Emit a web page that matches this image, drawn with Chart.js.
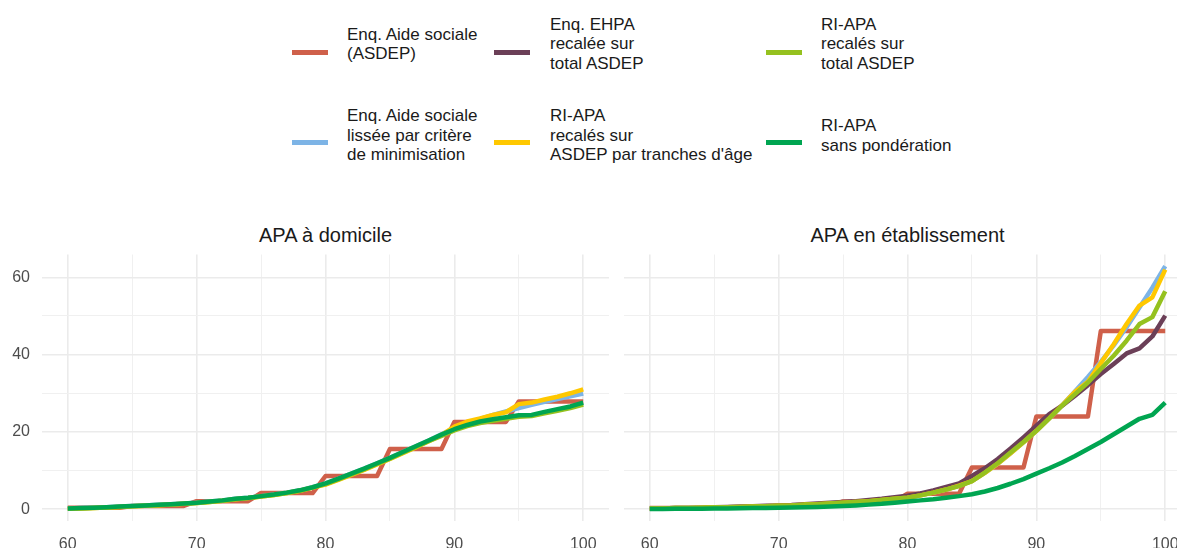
<!DOCTYPE html>
<html lang="fr">
<head>
<meta charset="utf-8">
<script src="https://cdn.jsdelivr.net/npm/chart.js@4"></script>
<style>
  html, body { margin: 0; padding: 0; width: 1177px; height: 548px; overflow: hidden; background: #fff; }
  body { position: relative; font-family: "Liberation Sans", Arial, sans-serif; }
  canvas { position: absolute; top: 245px; }
  .title { position: absolute; top: 235px; width: 567px; text-align: center; font-size: 20px; color: #1a1a1a; transform: translateY(-50%); }
  .key { position: absolute; width: 36px; height: 5px; }
  .lab { position: absolute; font-size: 17px; line-height: 19.5px; color: #1a1a1a; white-space: pre; transform: translateY(-50%); }
</style>
</head>
<body>
<div class="title" style="left:42px">APA à domicile</div>
<div class="title" style="left:624px">APA en établissement</div>
<div id="legend"></div>
<canvas id="dom" width="609" height="303" style="left:0"></canvas>
<canvas id="etab" width="567" height="303" style="left:624px"></canvas>
<script>
// Age (x axis)
const ages = [60, 61, 62, 63, 64, 65, 66, 67, 68, 69, 70, 71, 72, 73, 74, 75, 76, 77, 78, 79, 80,
              81, 82, 83, 84, 85, 86, 87, 88, 89, 90, 91, 92, 93, 94, 95, 96, 97, 98, 99, 100];
const xTicks = [60, 65, 70, 75, 80, 85, 90, 95, 100];
const yTicks = [0, 10, 20, 30, 40, 50, 60];

// APA à domicile
const asdepDom = [0.4, 0.4, 0.4, 0.4, 0.4, 0.85, 0.85, 0.85, 0.85, 0.85, 2.1, 2.1, 2.1, 2.1, 2.1,
  4.2, 4.2, 4.2, 4.2, 4.2, 8.6, 8.6, 8.6, 8.6, 8.6, 15.6, 15.6, 15.6, 15.6, 15.6,
  22.6, 22.6, 22.6, 22.6, 22.6, 27.9, 27.9, 27.9, 27.9, 27.9, 27.9];
const lisseeDom = [0.2, 0.3, 0.4, 0.55, 0.7, 0.85, 1.0, 1.15, 1.3, 1.5, 1.7, 2.0, 2.3, 2.7, 3.0,
  3.4, 3.8, 4.3, 4.9, 5.7, 6.7, 7.9, 9.2, 10.5, 11.9, 13.3, 14.8, 16.3, 17.8, 19.4,
  21.0, 22.3, 23.4, 24.4, 25.3, 26.2, 27.0, 27.8, 28.5, 29.2, 29.9];
const ehpaDom = [];
const tranchesDom = [0.1, 0.2, 0.3, 0.45, 0.6, 0.75, 0.9, 1.05, 1.2, 1.4, 1.6, 1.9, 2.2, 2.6, 2.9,
  3.3, 3.7, 4.2, 4.8, 5.6, 6.4, 7.6, 8.9, 10.2, 11.6, 13.0, 14.5, 16.0, 17.6, 19.2,
  21.4, 22.7, 23.5, 24.4, 25.1, 27.2, 27.6, 28.4, 29.1, 30.0, 31.0];
const recalTotalDom = [0.1, 0.2, 0.3, 0.45, 0.6, 0.75, 0.9, 1.05, 1.2, 1.4, 1.6, 1.9, 2.2, 2.6, 2.9,
  3.3, 3.7, 4.2, 4.8, 5.6, 6.5, 7.7, 9.0, 10.3, 11.7, 13.1, 14.6, 16.1, 17.6, 19.0,
  20.4, 21.5, 22.3, 22.9, 23.4, 23.9, 24.1, 24.8, 25.5, 26.2, 27.1];
const brutDom = [0.2, 0.3, 0.4, 0.55, 0.7, 0.85, 1.0, 1.15, 1.3, 1.5, 1.7, 2.0, 2.3, 2.7, 3.0,
  3.4, 3.8, 4.3, 4.9, 5.7, 6.7, 7.9, 9.2, 10.5, 11.9, 13.3, 14.8, 16.3, 17.8, 19.3,
  20.7, 21.8, 22.7, 23.3, 23.8, 24.3, 24.4, 25.2, 25.9, 26.6, 27.6];

// APA en établissement
const asdepEtab = [0.3, 0.3, 0.3, 0.3, 0.3, 0.5, 0.5, 0.5, 0.5, 0.5, 1.0, 1.0, 1.0, 1.0, 1.0,
  2.0, 2.0, 2.0, 2.0, 2.0, 4.0, 4.0, 4.0, 4.0, 4.0, 10.8, 10.8, 10.8, 10.8, 10.8,
  24.0, 24.0, 24.0, 24.0, 24.0, 46.1, 46.1, 46.1, 46.1, 46.1, 46.1];
const lisseeEtab = [0.2, 0.2, 0.3, 0.3, 0.4, 0.5, 0.5, 0.6, 0.7, 0.8, 0.9, 1.0, 1.2, 1.3, 1.5,
  1.7, 1.9, 2.1, 2.4, 2.7, 3.0, 3.6, 4.3, 5.1, 6.1, 7.3, 9.4, 11.8, 14.5, 17.3,
  20.3, 23.5, 26.9, 30.5, 34.2, 38.1, 42.4, 47.1, 52.2, 57.3, 62.9];
const ehpaEtab = [0.2, 0.2, 0.3, 0.3, 0.4, 0.5, 0.6, 0.7, 0.8, 0.9, 1.0, 1.1, 1.3, 1.5, 1.7,
  1.9, 2.1, 2.4, 2.7, 3.1, 3.5, 4.1, 4.9, 5.8, 6.7, 8.6, 10.6, 13.0, 15.7, 18.6,
  21.6, 24.6, 26.8, 29.4, 32.1, 35.0, 37.6, 40.3, 41.6, 44.7, 50.1];
const tranchesEtab = [0.2, 0.2, 0.3, 0.3, 0.4, 0.5, 0.5, 0.6, 0.7, 0.8, 0.9, 1.0, 1.2, 1.3, 1.5,
  1.7, 1.9, 2.1, 2.4, 2.7, 3.0, 3.6, 4.3, 5.1, 6.1, 7.3, 9.4, 11.8, 14.5, 17.3,
  20.3, 23.5, 26.9, 30.4, 33.0, 37.8, 42.7, 47.9, 52.7, 54.8, 62.0];
const recalTotalEtab = [0.2, 0.2, 0.3, 0.3, 0.4, 0.5, 0.5, 0.6, 0.7, 0.8, 0.9, 1.0, 1.2, 1.3, 1.5,
  1.7, 1.9, 2.1, 2.4, 2.7, 3.0, 3.6, 4.3, 5.1, 6.0, 7.3, 9.5, 11.9, 14.7, 17.4,
  20.3, 23.5, 26.8, 29.8, 32.8, 36.3, 39.7, 43.6, 47.9, 49.7, 56.4];
const brutEtab = [0.05, 0.07, 0.1, 0.12, 0.15, 0.18, 0.2, 0.25, 0.3, 0.35, 0.4, 0.45, 0.5, 0.6, 0.7,
  0.85, 1.0, 1.2, 1.4, 1.7, 2.0, 2.3, 2.6, 3.0, 3.4, 3.9, 4.6, 5.5, 6.6, 7.8,
  9.2, 10.6, 12.1, 13.8, 15.6, 17.4, 19.4, 21.4, 23.4, 24.4, 27.6];

// Legend labels and colours (legend order: row by row)
const seriesLabels = ["Enq. Aide sociale\n(ASDEP)", "Enq. EHPA\nrecalée sur\ntotal ASDEP", "RI-APA\nrecalés sur\ntotal ASDEP",
  "Enq. Aide sociale\nlissée par critère\nde minimisation", "RI-APA\nrecalés sur\nASDEP par tranches d'âge", "RI-APA\nsans pondération"];
const seriesColors = ["#CF604A", "#6B3F57", "#95C11F", "#7DB4E6", "#FFC800", "#00A551"];
// drawing order: lower is on top
const seriesOrder = [5, 3, 1, 4, 2, 0];

// legend, built by hand
const legendCols = [{ key: 292, text: 347 }, { key: 494, text: 550 }, { key: 766, text: 821 }];
const legendRows = [{ key: 52.7, text: 43.5 }, { key: 142.7, text: 135 }];
const legend = document.getElementById("legend");
seriesLabels.forEach((lab, i) => {
  const col = legendCols[i % 3], row = legendRows[Math.floor(i / 3)];
  const k = document.createElement("div");
  k.className = "key";
  k.style.left = col.key + "px";
  k.style.top = (row.key - 2.5) + "px";
  k.style.background = seriesColors[i];
  legend.appendChild(k);
  const t = document.createElement("div");
  t.className = "lab";
  t.style.left = col.text + "px";
  t.style.top = row.text + "px";
  t.textContent = lab;
  legend.appendChild(t);
});

const tickFont = { family: "'Liberation Sans', Arial, sans-serif", size: 16 };
const gridColor = (ctx, step) => (ctx.tick && ctx.tick.value % step === 0 ? "#ebebeb" : "#f0f0f0");
const gridWidth = (ctx, step) => (ctx.tick && ctx.tick.value % step === 0 ? 1.6 : 1.0);

function panel(id, seriesValues, showY) {
  const datasets = seriesValues.map((vals, i) => ({
    label: seriesLabels[i],
    data: vals.map((v, j) => ({ x: ages[j], y: v })),
    borderColor: seriesColors[i],
    borderWidth: 4.5,
    pointRadius: 0,
    tension: 0,
    fill: false,
    borderJoinStyle: "round",
    order: seriesOrder[i],
  }));

  return new Chart(document.getElementById(id), {
    type: "line",
    data: { datasets },
    options: {
      responsive: false,
      animation: false,
      layout: { padding: { top: 9.5, left: 0, right: 0, bottom: 0 } },
      plugins: { legend: { display: false }, tooltip: { enabled: false } },
      scales: {
        x: {
          type: "linear",
          min: 58,
          max: 102,
          afterBuildTicks: (sc) => { sc.ticks = xTicks.map((v) => ({ value: v })); },
          afterFit: (sc) => { sc.height = 26.6; sc.paddingLeft = 0; sc.paddingRight = 0; },
          border: { display: false },
          grid: { drawTicks: false, color: (c) => gridColor(c, 10), lineWidth: (c) => gridWidth(c, 10) },
          ticks: {
            padding: 13.5, autoSkip: false, maxRotation: 0, color: "#4d4d4d", font: tickFont,
            callback: (v) => (v % 10 === 0 ? String(v) : ""),
          },
        },
        y: {
          min: -3.14,
          max: 65.9,
          afterBuildTicks: (sc) => { sc.ticks = yTicks.map((v) => ({ value: v })); },
          afterFit: (sc) => { sc.width = showY ? 42 : 0; sc.paddingTop = 0; sc.paddingBottom = 0; },
          border: { display: false },
          grid: { drawTicks: false, color: (c) => gridColor(c, 20), lineWidth: (c) => gridWidth(c, 20) },
          ticks: {
            display: showY, padding: 12, color: "#4d4d4d", font: tickFont,
            callback: (v) => (v % 20 === 0 ? String(v) : ""),
          },
        },
      },
    },
  });
}

panel("dom", [asdepDom, ehpaDom, recalTotalDom, lisseeDom, tranchesDom, brutDom], true);
panel("etab", [asdepEtab, ehpaEtab, recalTotalEtab, lisseeEtab, tranchesEtab, brutEtab], false);
</script>
</body>
</html>
